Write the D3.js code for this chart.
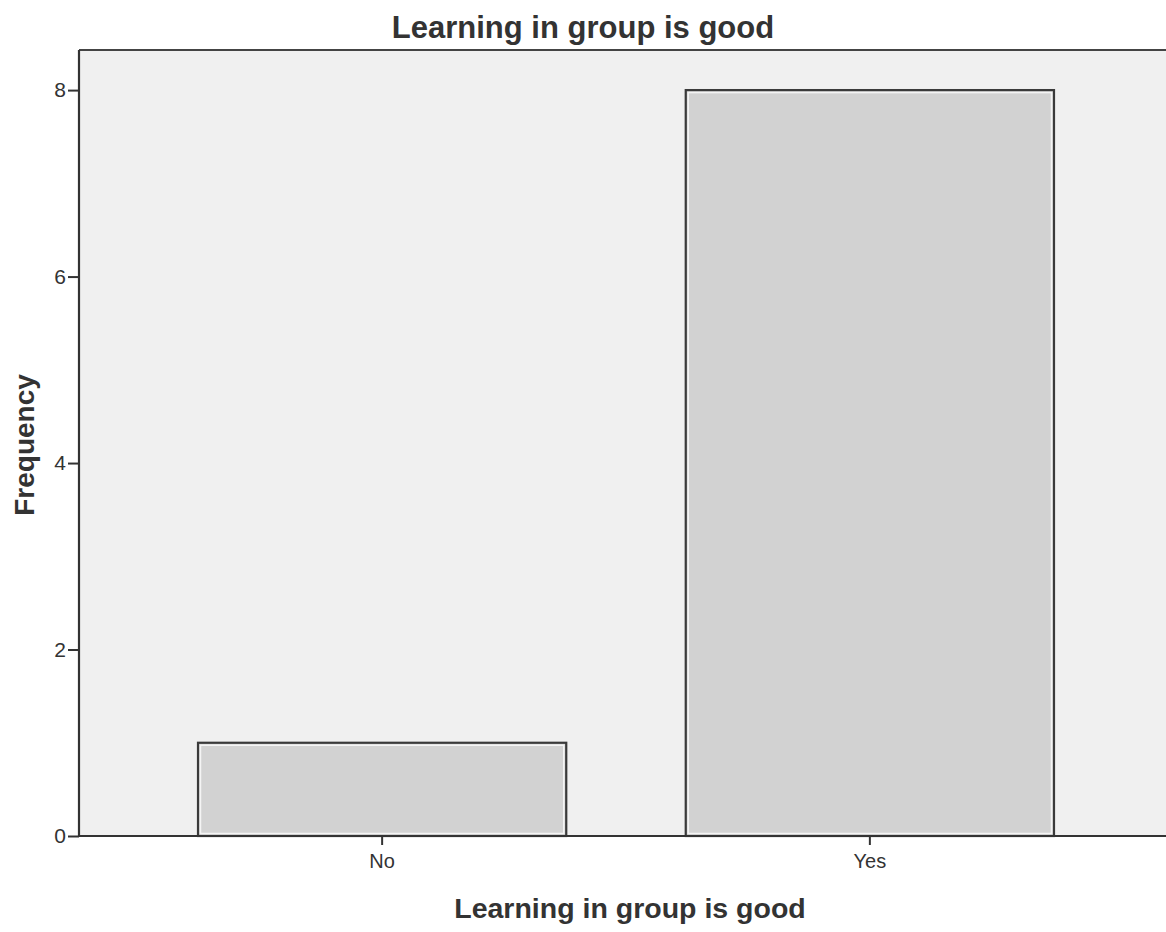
<!DOCTYPE html>
<html><head><meta charset="utf-8">
<script src="https://cdn.jsdelivr.net/npm/d3@7"></script>
<style>body{margin:0;background:#fff}svg{display:block}text{font-family:"Liberation Sans",Arial,sans-serif;fill:#333}</style>
</head><body><svg id="c" width="1166" height="932"></svg>
<script>
const categories = ["No", "Yes"];
const frequencies = [1, 8];
const yTicks = [0, 2, 4, 6, 8];
const chartTitle = "Learning in group is good";
const xTitle = "Learning in group is good";
const yTitle = "Frequency";

const svg = d3.select("#c");
const pLeft = 79, pRight = 1173, pTop = 50, pBottom = 836;
const x = d3.scaleBand().domain(categories).range([pLeft, pRight]).paddingInner(0.245).paddingOuter(0.244);
const y = d3.scaleLinear().domain([0, 8.43]).range([pBottom, pTop]);

// plot background
svg.append("rect").attr("x", pLeft).attr("y", pTop).attr("width", pRight - pLeft).attr("height", pBottom - pTop).attr("fill", "#f0f0f0");

// bars
const bars = svg.append("g").selectAll("g").data(categories).join("g");
bars.append("rect")
  .attr("x", d => x(d)).attr("y", (d, i) => y(frequencies[i]))
  .attr("width", x.bandwidth()).attr("height", (d, i) => y(0) - y(frequencies[i]))
  .attr("fill", "#d2d2d2").attr("stroke", "#3a3a3a").attr("stroke-width", 2.2);
bars.append("rect")
  .attr("x", d => x(d) + 2.5).attr("y", (d, i) => y(frequencies[i]) + 2.5)
  .attr("width", x.bandwidth() - 5).attr("height", (d, i) => y(0) - y(frequencies[i]) - 5)
  .attr("fill", "none").attr("stroke", "#f4f4f4").attr("stroke-width", 1.5);

// frame top
svg.append("line").attr("x1", pLeft).attr("x2", pRight).attr("y1", pTop).attr("y2", pTop).attr("stroke", "#444").attr("stroke-width", 2);

// y axis
const ya = svg.append("g").attr("transform", `translate(${pLeft},0)`)
  .call(d3.axisLeft(y).tickValues(yTicks).tickSize(11).tickPadding(2).tickFormat(d3.format("d")));
ya.attr("font-size", 21).attr("font-family", "'Liberation Sans',Arial,sans-serif");
ya.select(".domain").attr("stroke", "#333").attr("stroke-width", 2.2).attr("d", `M0,${pTop}V${pBottom}`);
ya.selectAll(".tick line").attr("stroke", "#333").attr("stroke-width", 2);
ya.selectAll(".tick text").attr("fill", "#333");

// x axis
const xa = svg.append("g").attr("transform", `translate(0,${pBottom})`)
  .call(d3.axisBottom(x).tickSize(9).tickPadding(9));
xa.attr("font-size", 20).attr("font-family", "'Liberation Sans',Arial,sans-serif");
xa.select(".domain").attr("stroke", "#333").attr("stroke-width", 2.2).attr("d", `M${pLeft},0H${pRight}`);
xa.selectAll(".tick line").attr("stroke", "#333").attr("stroke-width", 2);
xa.selectAll(".tick text").attr("fill", "#333");

// titles
svg.append("text").attr("x", 583).attr("y", 38).attr("text-anchor", "middle")
  .attr("font-size", 31).attr("font-weight", "bold").text(chartTitle);
svg.append("text").attr("x", 630).attr("y", 918).attr("text-anchor", "middle")
  .attr("font-size", 28.5).attr("font-weight", "bold").text(xTitle);
svg.append("text").attr("transform", "translate(34,445) rotate(-90)").attr("text-anchor", "middle")
  .attr("font-size", 28).attr("font-weight", "bold").text(yTitle);
</script></body></html>
